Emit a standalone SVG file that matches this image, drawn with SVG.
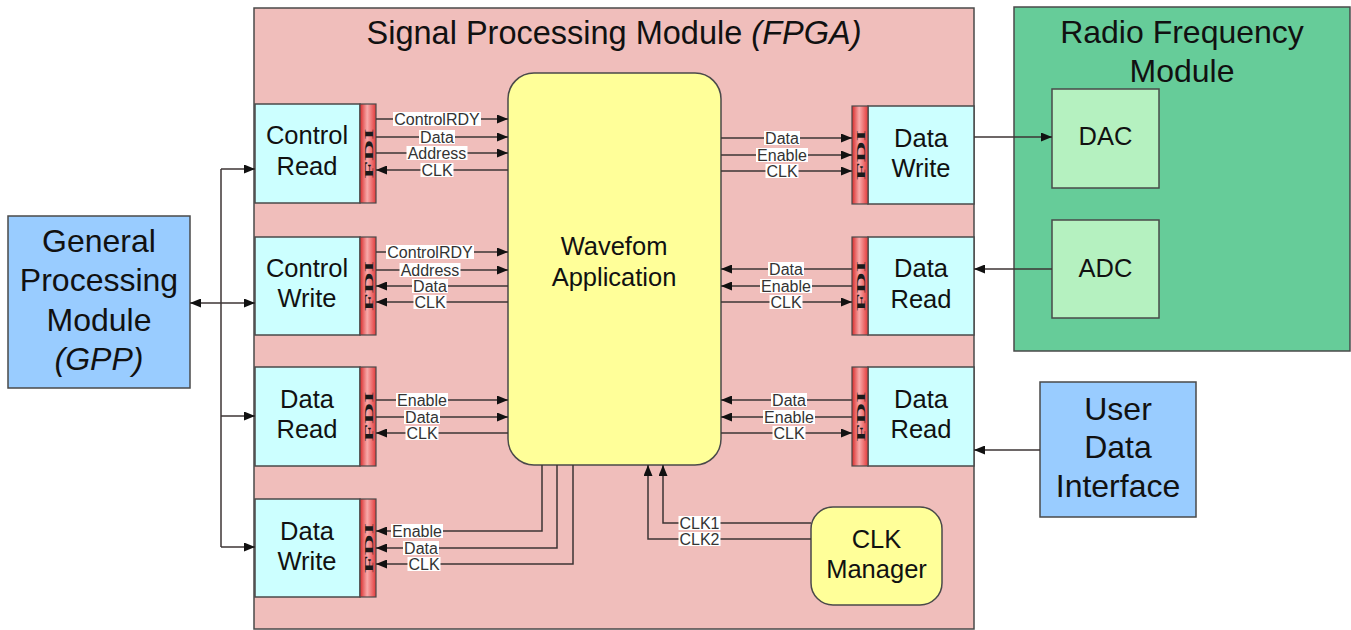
<svg xmlns="http://www.w3.org/2000/svg" width="1351" height="630" viewBox="0 0 1351 630">
<defs>
<style>
text{font-family:"Liberation Sans",Arial,sans-serif;fill:#111;}
.box{stroke:#4a4a4a;stroke-width:1.5;}
.cyan{fill:#ccffff;stroke:#4a4a4a;stroke-width:1.5;}
.fdi{fill:url(#fdiG);stroke:#4a4a4a;stroke-width:1.2;}
.fdit{font-family:"Liberation Serif","Times New Roman",serif;font-weight:bold;font-size:13px;fill:#1a1a1a;}
.bt{font-size:25.5px;text-anchor:middle;}
.big{font-size:32px;text-anchor:middle;}
.ln{fill:none;stroke:#3c3434;stroke-width:1.5;marker-end:url(#ah);}
.lbg{fill:#ffffff;}
.lb{font-size:16px;text-anchor:middle;fill:#333;}
</style>
<linearGradient id="fdiG" x1="0" y1="0" x2="1" y2="0">
<stop offset="0" stop-color="#d92b2b"/>
<stop offset="0.45" stop-color="#f8aaaa"/>
<stop offset="1" stop-color="#e23a3a"/>
</linearGradient>
<marker id="ah" viewBox="0 0 11 9" refX="11" refY="4.5" markerWidth="11" markerHeight="9" markerUnits="userSpaceOnUse" orient="auto">
<path d="M0,0 L11,4.5 L0,9 z" fill="#111"/>
</marker>
</defs>
<rect width="1351" height="630" fill="#ffffff"/>

<g id="fpga">
<rect class="box" x="254" y="8" width="720" height="621" fill="#f0bebb"/>
<text x="614" y="44" font-size="32.5" text-anchor="middle">Signal Processing Module <tspan font-style="italic">(FPGA)</tspan></text>
</g>

<g id="waveform">
<rect class="box" x="508" y="73" width="213" height="392" rx="26" ry="26" fill="#ffff99"/>
<text class="bt" x="614" y="255" font-size="24.5">Wavefom</text>
<text class="bt" x="614" y="286" font-size="24.5">Application</text>
</g>

<g id="control-read">
<rect class="cyan" x="255" y="104" width="105" height="99"/>
<rect class="fdi" x="360" y="104" width="16" height="99"/>
<text class="fdit" transform="translate(372.5,153.5) rotate(-90)" text-anchor="middle" textLength="50" lengthAdjust="spacingAndGlyphs">FDI</text>
<text class="bt" x="307" y="144">Control</text>
<text class="bt" x="307" y="175">Read</text>
</g>

<g id="control-write">
<rect class="cyan" x="255" y="237" width="105" height="98"/>
<rect class="fdi" x="360" y="237" width="16" height="98"/>
<text class="fdit" transform="translate(372.5,286) rotate(-90)" text-anchor="middle" textLength="50" lengthAdjust="spacingAndGlyphs">FDI</text>
<text class="bt" x="307" y="277">Control</text>
<text class="bt" x="307" y="307">Write</text>
</g>

<g id="data-read-left">
<rect class="cyan" x="255" y="367" width="105" height="99"/>
<rect class="fdi" x="360" y="367" width="16" height="99"/>
<text class="fdit" transform="translate(372.5,416.5) rotate(-90)" text-anchor="middle" textLength="50" lengthAdjust="spacingAndGlyphs">FDI</text>
<text class="bt" x="307" y="408">Data</text>
<text class="bt" x="307" y="438">Read</text>
</g>

<g id="data-write-left">
<rect class="cyan" x="255" y="499" width="105" height="98"/>
<rect class="fdi" x="360" y="499" width="16" height="98"/>
<text class="fdit" transform="translate(372.5,548) rotate(-90)" text-anchor="middle" textLength="50" lengthAdjust="spacingAndGlyphs">FDI</text>
<text class="bt" x="307" y="540">Data</text>
<text class="bt" x="307" y="570">Write</text>
</g>

<g id="data-write-right">
<rect class="cyan" x="868" y="106" width="106" height="98"/>
<rect class="fdi" x="852" y="106" width="16" height="98"/>
<text class="fdit" transform="translate(864.5,155) rotate(-90)" text-anchor="middle" textLength="50" lengthAdjust="spacingAndGlyphs">FDI</text>
<text class="bt" x="921" y="147">Data</text>
<text class="bt" x="921" y="177">Write</text>
</g>

<g id="data-read-right-1">
<rect class="cyan" x="868" y="237" width="106" height="98"/>
<rect class="fdi" x="852" y="237" width="16" height="98"/>
<text class="fdit" transform="translate(864.5,286) rotate(-90)" text-anchor="middle" textLength="50" lengthAdjust="spacingAndGlyphs">FDI</text>
<text class="bt" x="921" y="277">Data</text>
<text class="bt" x="921" y="308">Read</text>
</g>

<g id="data-read-right-2">
<rect class="cyan" x="868" y="367" width="106" height="99"/>
<rect class="fdi" x="852" y="367" width="16" height="99"/>
<text class="fdit" transform="translate(864.5,416.5) rotate(-90)" text-anchor="middle" textLength="50" lengthAdjust="spacingAndGlyphs">FDI</text>
<text class="bt" x="921" y="408">Data</text>
<text class="bt" x="921" y="438">Read</text>
</g>

<g id="clk-manager">
<rect class="box" x="811" y="507" width="131" height="98" rx="22" ry="22" fill="#ffff99"/>
<text class="bt" x="876.5" y="548">CLK</text>
<text class="bt" x="876.5" y="578">Manager</text>
</g>

<g id="gpp">
<rect class="box" x="8" y="216" width="182" height="172" fill="#99ccff"/>
<text class="big" x="99" y="252">General</text>
<text class="big" x="99" y="291">Processing</text>
<text class="big" x="99" y="331">Module</text>
<text class="big" x="99" y="370" font-style="italic">(GPP)</text>
</g>

<g id="rf-module">
<rect class="box" x="1014" y="7" width="336" height="344" fill="#66cc99"/>
<text class="big" x="1182" y="43">Radio Frequency</text>
<text class="big" x="1182" y="82">Module</text>
</g>

<g id="dac">
<rect class="box" x="1052" y="89" width="107" height="99" fill="#b5f1c0"/>
<text class="bt" x="1105.5" y="145">DAC</text>
</g>

<g id="adc">
<rect class="box" x="1052" y="220" width="107" height="98" fill="#b5f1c0"/>
<text class="bt" x="1105.5" y="277">ADC</text>
</g>

<g id="user-data-interface">
<rect class="box" x="1040" y="382" width="156" height="135" fill="#99ccff"/>
<text class="big" x="1118" y="420">User</text>
<text class="big" x="1118" y="458">Data</text>
<text class="big" x="1118" y="497">Interface</text>
</g>

<g id="connectors">
<path d="M221,169 V547" fill="none" stroke="#3c3434" stroke-width="1.5"/>
<path class="ln" d="M221,169 H255"/>
<path class="ln" d="M221,303 H255"/>
<path class="ln" d="M221,416 H255"/>
<path class="ln" d="M221,547 H255"/>
<path class="ln" d="M221,303 H190" stroke-width="2.2"/>

<path class="ln" d="M376,119 H508"/>
<path class="ln" d="M376,137 H508"/>
<path class="ln" d="M376,153 H508"/>
<path class="ln" d="M508,170 H376"/>
<path class="ln" d="M376,252 H508"/>
<path class="ln" d="M376,270 H508"/>
<path class="ln" d="M508,286 H376"/>
<path class="ln" d="M508,302 H376"/>
<path class="ln" d="M376,400 H508"/>
<path class="ln" d="M376,417 H508"/>
<path class="ln" d="M508,433 H376"/>
<path class="ln" d="M542,465 V531 H376"/>
<path class="ln" d="M557,465 V548 H376"/>
<path class="ln" d="M573,465 V564 H376"/>
<path class="ln" d="M721,138 H852"/>
<path class="ln" d="M721,155 H852"/>
<path class="ln" d="M721,171 H852"/>
<path class="ln" d="M852,269 H721"/>
<path class="ln" d="M852,286 H721"/>
<path class="ln" d="M721,302 H852"/>
<path class="ln" d="M852,400 H721"/>
<path class="ln" d="M852,417 H721"/>
<path class="ln" d="M721,433 H852"/>
<path class="ln" d="M811,523 H663 V465"/>
<path class="ln" d="M811,539 H648 V465"/>
<path class="ln" d="M974,137 H1052"/>
<path class="ln" d="M1052,269 H974"/>
<path class="ln" d="M1040,450 H974"/>

<g>
<rect class="lbg" x="393" y="112" width="88" height="14"/><text class="lb" x="437" y="124.5">ControlRDY</text>
<rect class="lbg" x="419" y="130" width="36" height="14"/><text class="lb" x="437" y="142.5">Data</text>
<rect class="lbg" x="406.5" y="146" width="61" height="14"/><text class="lb" x="437" y="158.5">Address</text>
<rect class="lbg" x="420.5" y="163" width="33" height="14"/><text class="lb" x="437" y="175.5">CLK</text>

<rect class="lbg" x="386" y="245" width="88" height="14"/><text class="lb" x="430" y="257.5">ControlRDY</text>
<rect class="lbg" x="399.5" y="263" width="61" height="14"/><text class="lb" x="430" y="275.5">Address</text>
<rect class="lbg" x="412" y="279" width="36" height="14"/><text class="lb" x="430" y="291.5">Data</text>
<rect class="lbg" x="413.5" y="295" width="33" height="14"/><text class="lb" x="430" y="307.5">CLK</text>

<rect class="lbg" x="396" y="393" width="52" height="14"/><text class="lb" x="422" y="405.5">Enable</text>
<rect class="lbg" x="404" y="410" width="36" height="14"/><text class="lb" x="422" y="422.5">Data</text>
<rect class="lbg" x="405.5" y="426" width="33" height="14"/><text class="lb" x="422" y="438.5">CLK</text>

<rect class="lbg" x="391" y="524" width="52" height="14"/><text class="lb" x="417" y="536.5">Enable</text>
<rect class="lbg" x="403" y="541" width="36" height="14"/><text class="lb" x="421" y="553.5">Data</text>
<rect class="lbg" x="407.5" y="557" width="33" height="14"/><text class="lb" x="424" y="569.5">CLK</text>

<rect class="lbg" x="764" y="131" width="36" height="14"/><text class="lb" x="782" y="143.5">Data</text>
<rect class="lbg" x="756" y="148" width="52" height="14"/><text class="lb" x="782" y="160.5">Enable</text>
<rect class="lbg" x="765.5" y="164" width="33" height="14"/><text class="lb" x="782" y="176.5">CLK</text>

<rect class="lbg" x="768" y="262" width="36" height="14"/><text class="lb" x="786" y="274.5">Data</text>
<rect class="lbg" x="760" y="279" width="52" height="14"/><text class="lb" x="786" y="291.5">Enable</text>
<rect class="lbg" x="769.5" y="295" width="33" height="14"/><text class="lb" x="786" y="307.5">CLK</text>

<rect class="lbg" x="771" y="393" width="36" height="14"/><text class="lb" x="789" y="405.5">Data</text>
<rect class="lbg" x="763" y="410" width="52" height="14"/><text class="lb" x="789" y="422.5">Enable</text>
<rect class="lbg" x="772.5" y="426" width="33" height="14"/><text class="lb" x="789" y="438.5">CLK</text>

<rect class="lbg" x="678.5" y="516" width="42" height="14"/><text class="lb" x="699.5" y="528.5">CLK1</text>
<rect class="lbg" x="678.5" y="532" width="42" height="14"/><text class="lb" x="699.5" y="544.5">CLK2</text>
</g>
</g>
</svg>
